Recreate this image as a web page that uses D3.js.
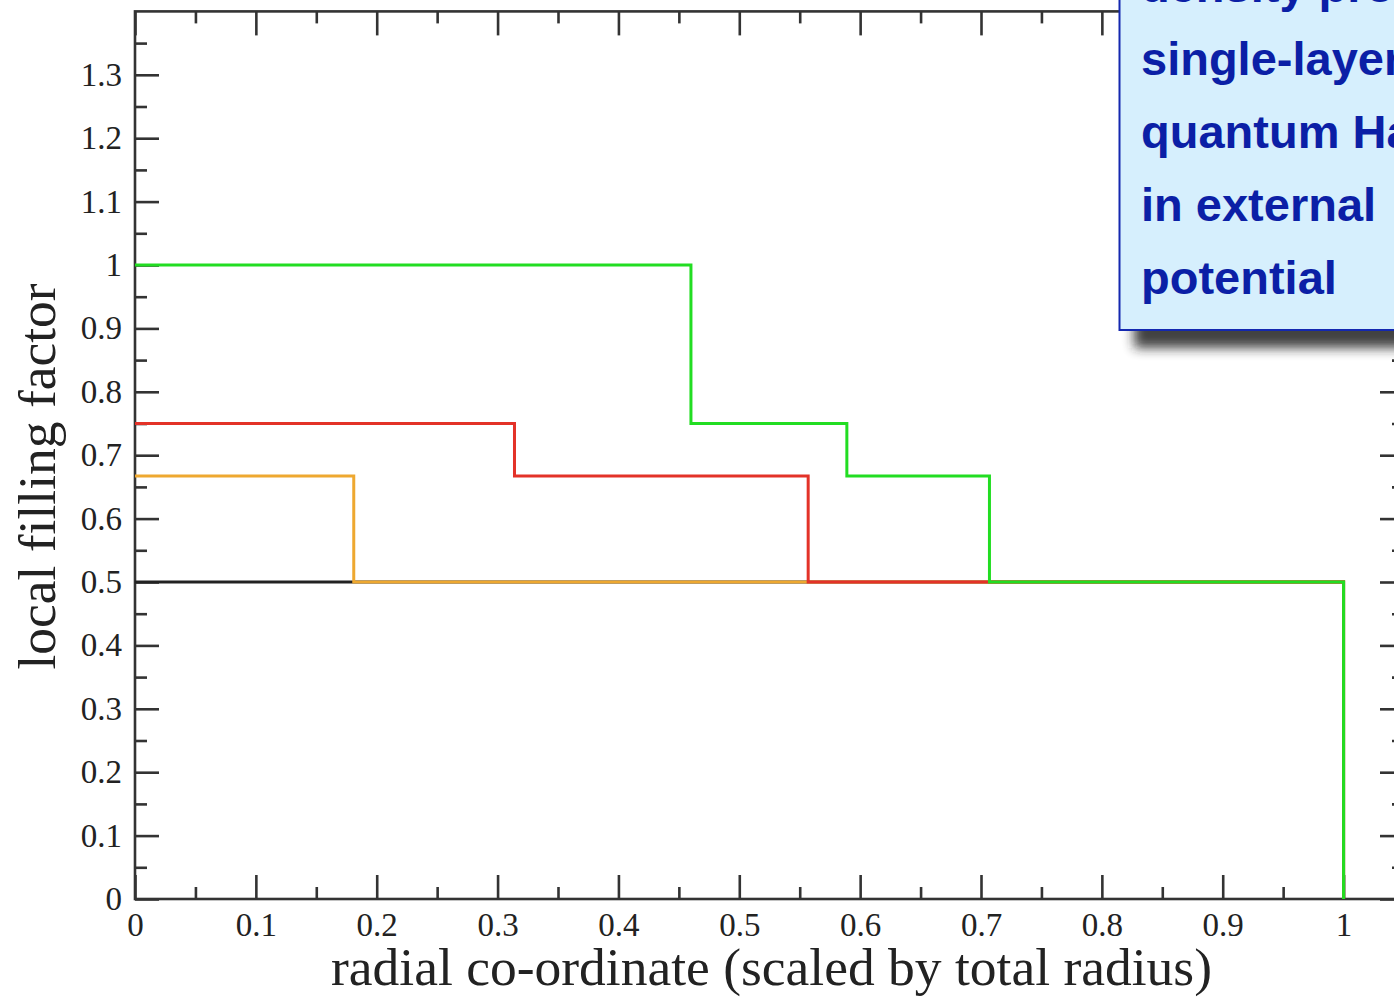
<!DOCTYPE html>
<html><head><meta charset="utf-8">
<script src="https://cdn.jsdelivr.net/npm/d3@7"></script>
<style>body{margin:0;background:#fff;overflow:hidden}svg{display:block}</style>
</head><body>
<svg id="c" width="1394" height="997"></svg>
<script>
// Data: step profiles (edges in radial coordinate, levels = local filling factor)
const blackEdges = [0, 1.0];
const blackLevels = [0.5];
const orangeEdges = [0, 0.181, 1.0];
const orangeLevels = [0.667, 0.5];
const redEdges = [0, 0.314, 0.557, 1.0];
const redLevels = [0.75, 0.667, 0.5];
const greenEdges = [0, 0.46, 0.589, 0.707, 1.0];
const greenLevels = [1.0, 0.75, 0.667, 0.5];

const xMajorTicks = [0,0.1,0.2,0.3,0.4,0.5,0.6,0.7,0.8,0.9,1.0];
const xTickLabels = ["0","0.1","0.2","0.3","0.4","0.5","0.6","0.7","0.8","0.9","1"];
const xMinorTicks = [0.05,0.15,0.25,0.35,0.45,0.55,0.65,0.75,0.85,0.95,1.05];
const yMajorTicks = [0,0.1,0.2,0.3,0.4,0.5,0.6,0.7,0.8,0.9,1.0,1.1,1.2,1.3];
const yTickLabels = ["0","0.1","0.2","0.3","0.4","0.5","0.6","0.7","0.8","0.9","1","1.1","1.2","1.3"];
const yMinorTicks = [0.05,0.15,0.25,0.35,0.45,0.55,0.65,0.75,0.85,0.95,1.05,1.15,1.25,1.35];

const titleLines = ["density profile of", "single-layer", "quantum Hall", "in external", "potential"];

const svg = d3.select("#c");
const x = d3.scaleLinear().domain([0, 1.05]).range([135, 1404]);
const y = d3.scaleLinear().domain([0, 1.4]).range([899, 11.4]);

const axisColor = "#333";
function styleAxis(g){
  g.select(".domain").remove();
  g.selectAll(".tick line").attr("stroke", axisColor).attr("stroke-width", 2.6);
  g.selectAll(".tick text").attr("fill", "#222").attr("font-family", "Liberation Serif, Times New Roman, serif").attr("font-size", 33);
}
const majorLen = 24, minorLen = 12;
// bottom
svg.append("g").attr("transform", `translate(0,${y(0)})`)
  .call(d3.axisBottom(x).tickValues(xMajorTicks).tickSizeInner(-majorLen).tickSizeOuter(0).tickPadding(9)
    .tickFormat((d,i)=>xTickLabels[i])).call(styleAxis)
  .selectAll(".tick text").attr("dy", "0.86em");
svg.append("g").attr("transform", `translate(0,${y(0)})`)
  .call(d3.axisBottom(x).tickValues(xMinorTicks).tickSizeInner(-minorLen).tickSizeOuter(0).tickFormat("")).call(styleAxis);
// top
svg.append("g").attr("transform", `translate(0,${y(1.4)})`)
  .call(d3.axisTop(x).tickValues(xMajorTicks).tickSizeInner(-majorLen).tickSizeOuter(0).tickFormat("")).call(styleAxis);
svg.append("g").attr("transform", `translate(0,${y(1.4)})`)
  .call(d3.axisTop(x).tickValues(xMinorTicks).tickSizeInner(-minorLen).tickSizeOuter(0).tickFormat("")).call(styleAxis);
// left
svg.append("g").attr("transform", `translate(${x(0)},0)`)
  .call(d3.axisLeft(y).tickValues(yMajorTicks).tickSizeInner(-majorLen).tickSizeOuter(0).tickPadding(13)
    .tickFormat((d,i)=>yTickLabels[i])).call(styleAxis);
svg.append("g").attr("transform", `translate(${x(0)},0)`)
  .call(d3.axisLeft(y).tickValues(yMinorTicks).tickSizeInner(-minorLen).tickSizeOuter(0).tickFormat("")).call(styleAxis);
// right
svg.append("g").attr("transform", `translate(${x(1.05)},0)`)
  .call(d3.axisRight(y).tickValues(yMajorTicks).tickSizeInner(-majorLen).tickSizeOuter(0).tickFormat("")).call(styleAxis);
svg.append("g").attr("transform", `translate(${x(1.05)},0)`)
  .call(d3.axisRight(y).tickValues(yMinorTicks).tickSizeInner(-minorLen).tickSizeOuter(0).tickFormat("")).call(styleAxis);

// frame
svg.append("rect").attr("x", x(0)).attr("y", y(1.4)).attr("width", x(1.05)-x(0)).attr("height", y(0)-y(1.4))
  .attr("fill", "none").attr("stroke", axisColor).attr("stroke-width", 2.6);

// step lines
const line = d3.line().x(d=>x(d[0])).y(d=>y(d[1])).curve(d3.curveStepAfter);
function pts(edges, levels){
  const p = levels.map((v,i)=>[edges[i], v]);
  p.push([edges[edges.length-1], levels[levels.length-1]]);
  p.push([edges[edges.length-1], 0]);
  return p;
}
const series = [
  {e: blackEdges, l: blackLevels, c: "#222222"},
  {e: orangeEdges, l: orangeLevels, c: "#eea830"},
  {e: redEdges, l: redLevels, c: "#e33228"},
  {e: greenEdges, l: greenLevels, c: "#22dd22"}
];
series.forEach(s=>{
  svg.append("path").attr("d", line(pts(s.e, s.l))).attr("fill","none")
    .attr("stroke", s.c).attr("stroke-width", 3).attr("stroke-linejoin","miter");
});

// axis titles
svg.append("text").attr("x", (333+1210)/2).attr("y", 985).attr("text-anchor","middle")
  .attr("font-family","Liberation Serif, Times New Roman, serif").attr("font-size", 53.5).attr("fill","#222")
  .text("radial co-ordinate (scaled by total radius)");
svg.append("text").attr("transform", `translate(55,${(285+668)/2}) rotate(-90)`).attr("text-anchor","middle")
  .attr("font-family","Liberation Serif, Times New Roman, serif").attr("font-size", 53.5).attr("fill","#222")
  .text("local filling factor");

// title box with shadow
const defs = svg.append("defs");
defs.append("filter").attr("id","blur").attr("x","-20%").attr("y","-20%").attr("width","140%").attr("height","140%")
  .append("feGaussianBlur").attr("stdDeviation", 6);
svg.append("rect").attr("x", 1134).attr("y", -40).attr("width", 400).attr("height", 388)
  .attr("fill", "#222").attr("opacity", 0.85).attr("filter","url(#blur)");
svg.append("rect").attr("x", 1119.5).attr("y", -60).attr("width", 400).attr("height", 390)
  .attr("fill", "#d6effd").attr("stroke", "#1428b0").attr("stroke-width", 2);
svg.append("g").selectAll("text").data(titleLines).join("text")
  .attr("x", 1141).attr("y", (d,i)=>2 + i*73)
  .attr("font-family","Liberation Sans, Arial, Helvetica, sans-serif").attr("font-weight","bold")
  .attr("font-size", 47).attr("fill", "#0b1fa6").text(d=>d);
</script>
</body></html>
